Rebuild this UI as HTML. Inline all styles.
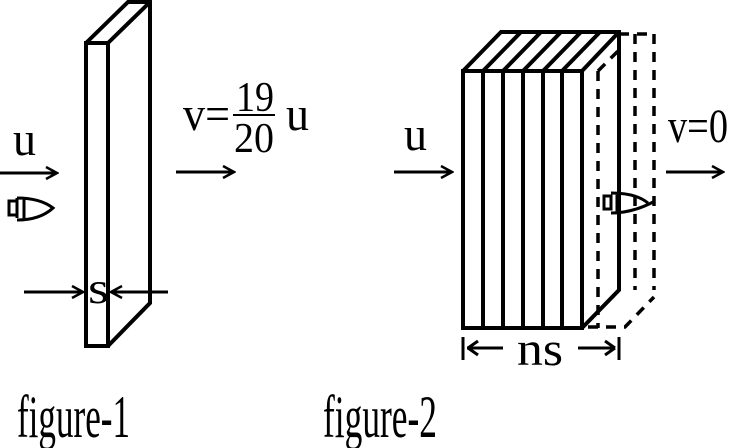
<!DOCTYPE html>
<html><head><meta charset="utf-8"><style>
html,body{margin:0;padding:0;background:#fff;}
svg{display:block;}
text{font-family:"Liberation Serif",serif;fill:#000;}
</style></head><body>
<svg width="737" height="448" viewBox="0 0 737 448" xmlns="http://www.w3.org/2000/svg">
<defs>
<marker id="ah" markerWidth="14" markerHeight="14" refX="12" refY="7" orient="auto" markerUnits="userSpaceOnUse">
<path d="M1,1 L12,7 L1,13" fill="none" stroke="#000" stroke-width="2.5"/>
</marker>
</defs>
<g stroke="#000" stroke-width="4" fill="none" stroke-linejoin="miter">
<rect x="86" y="43" width="22" height="303"/>
<path d="M86,43 L128,2 L150,2 L150,303 L108,346 M108,43 L150,2"/>
</g>
<g stroke="#000" stroke-width="3" fill="none">
<line x1="0" y1="173" x2="57" y2="173" marker-end="url(#ah)"/>
<line x1="176" y1="172" x2="234" y2="172" marker-end="url(#ah)"/>
<line x1="24" y1="292" x2="83" y2="292" marker-end="url(#ah)"/>
<line x1="168" y1="292" x2="111" y2="292" marker-end="url(#ah)"/>
<rect x="9" y="201" width="8" height="14"/>
<path d="M17,198 L17,218 M17,198 Q40,198 53,208 Q40,220 17,220"/>
<path d="M24,199 L24,219"/>
<line x1="233" y1="115" x2="275" y2="115" stroke-width="2"/>
</g>
<text x="13" y="155" font-size="48" textLength="23" lengthAdjust="spacingAndGlyphs">u</text>
<text x="183" y="130" font-size="48" textLength="47" lengthAdjust="spacingAndGlyphs">v=</text>
<text x="236" y="111" font-size="42" textLength="38" lengthAdjust="spacingAndGlyphs">19</text>
<text x="234" y="152" font-size="42" textLength="40" lengthAdjust="spacingAndGlyphs">20</text>
<text x="286" y="130" font-size="48" textLength="23" lengthAdjust="spacingAndGlyphs">u</text>
<text x="88" y="303" font-size="44" textLength="21" lengthAdjust="spacingAndGlyphs">s</text>

<g stroke="#000" stroke-width="4" fill="none">
<rect x="463" y="71" width="119" height="257"/>
<path d="M483,71 V328 M503,71 V328 M523,71 V328 M543,71 V328 M562,71 V328"/>
<path d="M463,71 L501,32 L619,32 L619,290 L582,328 M619,32 L582,71"/>
<path d="M483,71 L521,32 M503,71 L541,32 M523,71 L561,32 M543,71 L581,32 M562,71 L600,32"/>
</g>
<g stroke="#000" stroke-width="3.5" fill="none" stroke-dasharray="10,8">
<path d="M598,71 V328"/>
<path d="M654,34 V290"/>
<path d="M635,34 V290"/>
<path d="M588,327 H625 L654,297"/>
<path d="M619,34 H654"/>
<path d="M598,71 L619,50"/>
</g>
<g stroke="#000" stroke-width="3" fill="none">
<line x1="394" y1="172" x2="452" y2="172" marker-end="url(#ah)"/>
<line x1="666" y1="172" x2="723" y2="172" marker-end="url(#ah)"/>
<line x1="467" y1="348" x2="503" y2="348"/>
<path d="M468,348 L478,341 M468,348 L478,355"/>
<line x1="578" y1="348" x2="615" y2="348"/>
<path d="M615,348 L605,341 M615,348 L605,355"/>
<line x1="463" y1="337" x2="463" y2="360"/>
<line x1="619" y1="337" x2="619" y2="360"/>
<rect x="604" y="196" width="7" height="13"/>
<path d="M611,193 Q636,193 648,203 M611,213 Q633,213 655,201 M617,194 L617,214"/>
</g>
<text x="404" y="150" font-size="48" textLength="23" lengthAdjust="spacingAndGlyphs">u</text>
<text x="668" y="142" font-size="48" textLength="60" lengthAdjust="spacingAndGlyphs">v=0</text>
<text x="517" y="365" font-size="48" textLength="46" lengthAdjust="spacingAndGlyphs">ns</text>
<text x="17" y="437" font-size="60" textLength="113" lengthAdjust="spacingAndGlyphs">figure-1</text>
<text x="323" y="437" font-size="60" textLength="114" lengthAdjust="spacingAndGlyphs">figure-2</text>
</svg>
</body></html>
